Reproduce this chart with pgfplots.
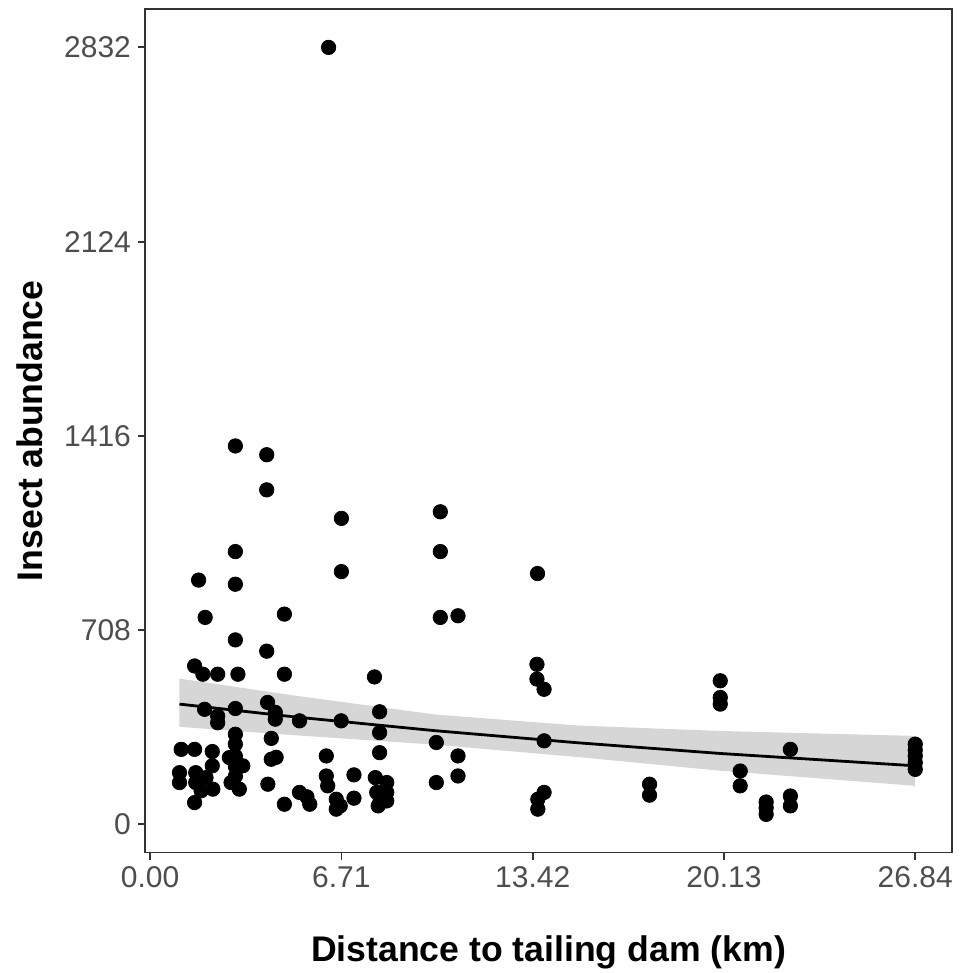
\documentclass[border=0pt]{standalone}
\usepackage{fontspec}
\setmainfont{Liberation Sans}
\usepackage{pgfplots}
\pgfplotsset{compat=1.18}
\definecolor{gray20}{HTML}{333333}
\definecolor{gray30}{HTML}{4D4D4D}
\definecolor{gray60}{HTML}{999999}

\begin{document}
\begin{tikzpicture}
% fixed canvas: 1 px of the reference = 0.5pt
\path[use as bounding box] (-72.5pt,-60.25pt) rectangle (408pt,426.25pt);
\begin{axis}[
  at={(0,0)}, anchor=south west,
  scale only axis, width=403.5pt, height=421.75pt,
  xmin=-0.18, xmax=28.13, ymin=-103, ymax=2972,
  axis line style={gray20, line width=0.9pt},
  xtick={0,6.71,13.42,20.13,26.84},
  xticklabels={0.00,6.71,13.42,20.13,26.84},
  ytick={0,708,1416,2124,2832},
  yticklabels={0,708,1416,2124,2832},
  xtick pos=bottom, ytick pos=left,
  tick align=outside, major tick length=3.5pt,
  tick style={gray20, line width=0.9pt},
  ticklabel style={font=\fontsize{15}{17}\selectfont, text=gray30},
  xlabel={Distance to tailing dam (km)},
  ylabel={Insect abundance},
  label style={font=\fontsize{17.8}{20}\selectfont\bfseries},
  xlabel style={at={(axis description cs:0.5,-0.1292)}, anchor=base},
  ylabel style={at={(axis description cs:-0.1276,0.5)}, anchor=base},
  clip=false,
]
% observations
\addplot[only marks, mark=*, mark size=3.6pt, black] coordinates {
  (6.26,2832)
  (2.99,1379) (4.09,1347) (4.09,1219) (6.71,1115) (2.99,994) (6.71,921)
  (1.70,890) (2.99,875) (1.93,754) (4.71,766)
  (10.18,1139) (10.18,994) (13.59,914) (10.18,754) (10.80,760)
  (2.99,672) (4.09,631) (1.56,577) (1.85,547) (2.37,547) (3.08,547) (4.71,547)
  (1.91,419) (2.37,394) (2.37,370) (2.99,422) (4.12,444) (4.39,408) (4.39,383)
  (5.24,377) (6.70,377) (4.25,313)
  (1.09,273) (1.56,273) (2.18,265)
  (2.99,328) (2.99,292) (2.99,248) (2.99,211) (2.99,175) (2.78,243) (3.25,213)
  (1.03,188) (1.03,152) (1.60,188) (1.60,152) (2.18,213) (1.96,170) (2.20,128)
  (1.79,122) (1.56,79) (2.84,152) (3.13,128)
  (4.25,237) (4.42,244) (4.13,146) (4.71,73) (5.24,116) (5.50,100) (5.60,73)
  (6.18,249) (6.18,176) (6.23,140) (6.53,91) (6.53,55) (7.15,180) (7.15,95)
  (6.67,67)
  (7.87,537) (8.05,410) (8.05,334) (8.05,261)
  (7.90,170) (8.30,152) (7.95,116) (8.30,116) (8.07,85) (8.30,85) (8.00,67)
  (10.04,298) (10.04,152) (10.80,249) (10.80,176)
  (13.57,583) (13.57,529) (13.82,492) (13.82,304) (13.82,116) (13.60,91) (13.60,55)
  (17.52,146) (17.52,106)
  (20.00,523) (20.00,462) (20.00,438) (20.70,194) (20.70,140)
  (21.61,81) (21.61,60) (21.61,36)
  (22.46,273) (22.46,103) (22.46,67)
  (26.84,292) (26.84,270) (26.84,249) (26.84,225) (26.84,200)
};
% confidence band
\addplot[draw=none, fill=gray60, fill opacity=0.4] coordinates {
  (1.03,531) (5,470) (10,400) (15,360) (20,340) (26.84,322)
  (26.84,140) (20,195) (15,245) (10,290) (5,325) (1.03,355)
} -- cycle;
% fitted trend
\addplot[black, line width=1.4pt] coordinates {
  (1.03,438) (5,392) (10,341) (15,297) (20,258) (26.84,213)
};
\end{axis}
\end{tikzpicture}
\end{document}
